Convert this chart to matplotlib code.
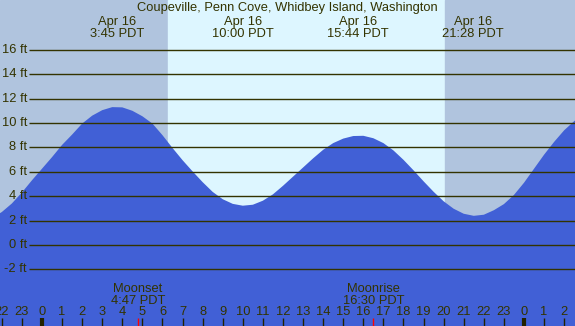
import numpy as np
import matplotlib
matplotlib.use("Agg")
import matplotlib.pyplot as plt

plt.rcParams['font.family'] = ['Liberation Sans', 'DejaVu Sans']

# tide height (ft), hours since midnight Apr 16
hours = [-2.5, -2.0, -1.5, -1.0, -0.5, 0.0, 0.5, 1.0, 1.5, 2.0, 2.5, 3.0, 3.5, 4.0,
         4.5, 5.0, 5.5, 6.0, 6.5, 7.0, 7.5, 8.0, 8.5, 9.0, 9.5, 10.0, 10.5, 11.0,
         11.5, 12.0, 12.5, 13.0, 13.5, 14.0, 14.5, 15.0, 15.5, 16.0, 16.5, 17.0,
         17.5, 18.0, 18.5, 19.0, 19.5, 20.0, 20.5, 21.0, 21.5, 22.0, 22.5, 23.0,
         23.5, 24.0, 24.5, 25.0, 25.5, 26.0, 26.5, 27.0]
height = [2.2, 2.7, 3.4, 4.3, 5.3, 6.25, 7.2, 8.2, 9.05, 9.95, 10.6, 11.05, 11.3, 11.28,
          11.0, 10.55, 9.95, 9.0, 7.95, 6.95, 6.03, 5.15, 4.35, 3.75, 3.37, 3.22, 3.3, 3.63,
          4.15, 4.85, 5.6, 6.35, 7.1, 7.8, 8.35, 8.72, 8.93, 8.95, 8.75, 8.35,
          7.75, 6.98, 6.12, 5.22, 4.36, 3.58, 2.97, 2.56, 2.39, 2.48, 2.85, 3.35,
          4.1, 5.1, 6.25, 7.4, 8.45, 9.4, 10.15, 10.8]

# high / low tide labels
event_hours = [3.75, 10.0, 15.73, 21.47]
event_labels = ['3:45 PDT', '10:00 PDT', '15:44 PDT', '21:28 PDT']

sunrise, sunset = 6.27, 20.07
moon_hours = [4.78, 16.5]
moon_names = ['Moonset', 'Moonrise']
moon_times = ['4:47 PDT', '16:30 PDT']

y_ticks = [-2, 0, 2, 4, 6, 8, 10, 12, 14, 16]
tick_hours = list(range(-2, 27))
tick_labels = ['22', '23'] + [str(h) for h in range(24)] + ['0', '1', '2']

txt = '#333300'
night = '#b0c4de'
day = '#ddf6ff'
water = '#4160d6'
fs = 9.3

fig = plt.figure(figsize=(5.75, 3.26), dpi=100)
ax = fig.add_axes([0, 0, 1, 1])
x0, x1 = -2.09, 26.54
y0, y1 = -6.64, 20.08
ax.set_xlim(x0, x1)
ax.set_ylim(y0, y1)
ax.axis('off')

ax.axvspan(x0, sunrise, color=night, zorder=0)
ax.axvspan(sunrise, sunset, color=day, zorder=0)
ax.axvspan(sunset, x1, color=night, zorder=0)

ax.fill_between(hours, height, y0, color=water, zorder=1, lw=0)

for yv in y_ticks:
    ax.hlines(yv, -0.65, x1, color=txt, lw=1.0, zorder=2)
    ax.text(-0.75, yv, f'{yv} ft', ha='right', va='center', fontsize=fs, color=txt, zorder=3)

ax.text(12.2, 19.45, 'Coupeville, Penn Cove, Whidbey Island, Washington',
        ha='center', va='center', fontsize=fs, color=txt)
for h, lab in zip(event_hours, event_labels):
    ax.text(h, 18.3, 'Apr 16', ha='center', va='center', fontsize=fs, color=txt)
    ax.text(h, 17.3, lab, ha='center', va='center', fontsize=fs, color=txt)

for h, name, t in zip(moon_hours, moon_names, moon_times):
    ax.text(h, -3.6, name, ha='center', va='center', fontsize=fs, color=txt)
    ax.text(h, -4.55, t, ha='center', va='center', fontsize=fs, color=txt)
    ax.vlines(h, y0, -5.95, color='red', lw=1.0, zorder=3)

for h, lab in zip(tick_hours, tick_labels):
    ax.text(h, -5.5, lab, ha='center', va='center', fontsize=fs, color=txt)
    if lab == '0':
        ax.vlines(h, y0, -5.95, color='#222200', lw=3.0, zorder=3)
    else:
        ax.vlines(h, y0, -5.95, color='#222200', lw=1.0, zorder=3)

fig.savefig('out.png', dpi=100)
